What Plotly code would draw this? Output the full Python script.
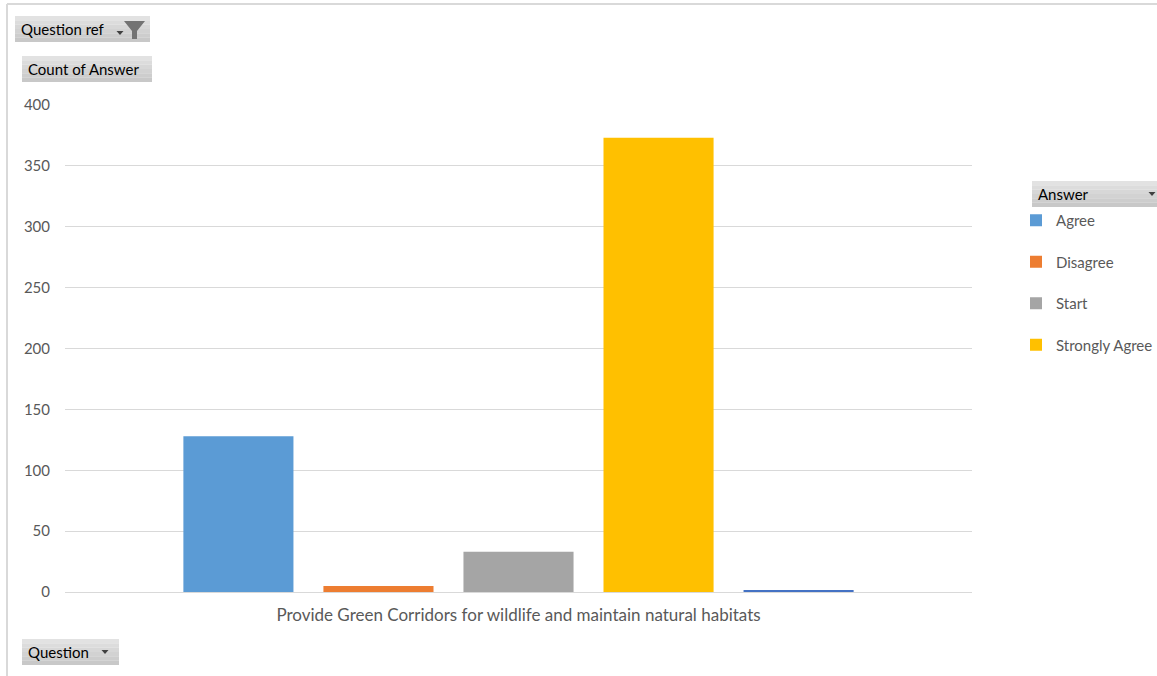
import plotly.graph_objects as go

category = ["Provide Green Corridors for wildlife and maintain natural habitats"]
answers = ["Agree", "Disagree", "Start", "Strongly Agree", "(blank)"]
counts = [128, 5, 33, 373, 1]
colors = ["#5B9BD5", "#ED7D31", "#A5A5A5", "#FFC000", "#4472C4"]
show_in_legend = [True, True, True, True, False]
y_ticks = [0, 50, 100, 150, 200, 250, 300, 350, 400]

W, H = 1157, 676
L, R, T, B = 65, 972, 105, 592
FONT = "Lato, 'Open Sans', sans-serif"

def px(x):
    return (x - L) / (R - L)

def py(y):
    return (B - y) / (B - T)

fig = go.Figure()
for i, (a, c, col, sl) in enumerate(zip(answers, counts, colors, show_in_legend)):
    fig.add_trace(go.Bar(
        x=category, y=[c], name=a, marker=dict(color=col, line=dict(width=0)),
        showlegend=sl, legendgroup=a,
    ))

shapes = []
annotations = []

# outer chart border (top and left)
shapes.append(dict(type="line", xref="paper", yref="paper", x0=px(7), x1=px(W + 5), y0=py(4), y1=py(4),
                   line=dict(color="#d9d9d9", width=2)))
shapes.append(dict(type="line", xref="paper", yref="paper", x0=px(7), x1=px(7), y0=py(4), y1=py(H + 5),
                   line=dict(color="#d9d9d9", width=2)))

def button(x0, y0, x1, y1, text, arrow=None, tx=None):
    n = 6
    for k in range(n):
        ya = y0 + (y1 - y0) * k / n
        yb = y0 + (y1 - y0) * (k + 1) / n
        g = int(226 - 26 * k / (n - 1))
        shapes.append(dict(type="rect", xref="paper", yref="paper", x0=px(x0), x1=px(x1),
                           y0=py(ya), y1=py(yb), line=dict(width=0),
                           fillcolor=f"rgb({g},{g},{g})", layer="above"))
    annotations.append(dict(xref="paper", yref="paper", x=px(tx if tx else x0 + 4), y=py((y0 + y1) / 2),
                            text=text, showarrow=False, xanchor="left", yanchor="middle",
                            font=dict(family=FONT, size=15, color="#000000")))
    if arrow is not None:
        ax, ay = arrow
        shapes.append(dict(type="path", xref="paper", yref="paper",
                           path=f"M {px(ax-3.5)} {py(ay-2)} L {px(ax+3.5)} {py(ay-2)} L {px(ax)} {py(ay+2)} Z",
                           fillcolor="#404040", line=dict(width=0), layer="above"))

button(15, 16, 150, 42, "Question ref", arrow=(120, 33))
# funnel icon
shapes.append(dict(type="path", xref="paper", yref="paper",
                   path=(f"M {px(124)} {py(21)} L {px(145)} {py(21)} L {px(137)} {py(31)} "
                         f"L {px(137)} {py(39)} L {px(132)} {py(39)} L {px(132)} {py(31)} Z"),
                   fillcolor="#737373", line=dict(width=0), layer="above"))
button(22, 56, 152, 82, "Count of Answer")
button(22, 639, 119, 665, "Question", arrow=(105, 652))
button(1032, 181, 1170, 207, "Answer", arrow=(1152, 194))

fig.update_layout(
    width=W, height=H,
    margin=dict(l=L, r=W - R, t=T, b=H - B, autoexpand=False),
    paper_bgcolor="white", plot_bgcolor="white",
    barmode="group", bargap=0.228, bargroupgap=0.214,
    font=dict(family=FONT, size=15, color="#595959"),
    xaxis=dict(showgrid=False, showline=False, ticks="", tickfont=dict(size=17, color="#595959"),
               ticklabelstandoff=11, fixedrange=True),
    yaxis=dict(range=[0, 400], tickvals=y_ticks, showgrid=True, gridcolor="#d9d9d9", gridwidth=1,
               zeroline=True, zerolinecolor="#d9d9d9", zerolinewidth=1, showline=False,
               tickfont=dict(size=15, color="#595959"), ticklabelstandoff=14, fixedrange=True),
    legend=dict(x=px(1016), y=py(204), xanchor="left", yanchor="top", tracegroupgap=19,
                font=dict(family=FONT, size=15, color="#595959"), itemwidth=30,
                bgcolor="rgba(0,0,0,0)"),
    shapes=shapes, annotations=annotations,
)

fig.write_html("out.html", config={"displayModeBar": False},
               post_script="document.body.style.margin='0';")
